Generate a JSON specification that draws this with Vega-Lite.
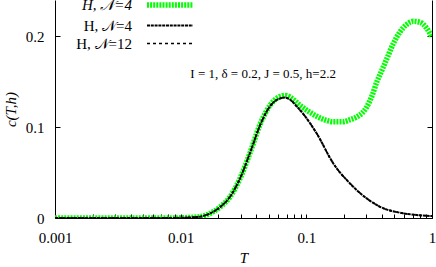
{
  "$schema": "https://vega.github.io/schema/vega-lite/v6.json",
  "width": 377,
  "height": 218,
  "autosize": {"type": "none"},
  "padding": {"left": 55, "top": 0, "right": 4, "bottom": 49},
  "background": "white",
  "config": {
    "view": {"stroke": null},
    "font": "Liberation Serif",
    "axis": {"grid": false, "domainColor": "black", "tickColor": "black", "labelColor": "black", "titleColor": "black", "labelFont": "Liberation Serif", "titleFont": "Liberation Serif", "labelFontSize": 15, "titleFontSize": 15, "titleFontWeight": "normal", "titleFontStyle": "italic"}
  },
  "datasets": {
    "curves": [
      {"series": "a", "T": 0.001, "c": 0},
      {"series": "a", "T": 0.003, "c": 0},
      {"series": "a", "T": 0.008, "c": 0},
      {"series": "a", "T": 0.01, "c": 0.0002},
      {"series": "a", "T": 0.0125, "c": 0.0008},
      {"series": "a", "T": 0.0143, "c": 0.0015},
      {"series": "a", "T": 0.0165, "c": 0.004},
      {"series": "a", "T": 0.0182, "c": 0.0069},
      {"series": "a", "T": 0.021, "c": 0.013},
      {"series": "a", "T": 0.0247, "c": 0.0234},
      {"series": "a", "T": 0.0297, "c": 0.0436},
      {"series": "a", "T": 0.0357, "c": 0.072},
      {"series": "a", "T": 0.0428, "c": 0.103},
      {"series": "a", "T": 0.0514, "c": 0.124},
      {"series": "a", "T": 0.06, "c": 0.133},
      {"series": "a", "T": 0.068, "c": 0.135},
      {"series": "a", "T": 0.078, "c": 0.131},
      {"series": "a", "T": 0.089, "c": 0.124},
      {"series": "a", "T": 0.105, "c": 0.117},
      {"series": "a", "T": 0.121, "c": 0.112},
      {"series": "a", "T": 0.14, "c": 0.108},
      {"series": "a", "T": 0.164, "c": 0.106},
      {"series": "a", "T": 0.196, "c": 0.106},
      {"series": "a", "T": 0.22, "c": 0.108},
      {"series": "a", "T": 0.25, "c": 0.111},
      {"series": "a", "T": 0.28, "c": 0.116},
      {"series": "a", "T": 0.302, "c": 0.122},
      {"series": "a", "T": 0.336, "c": 0.136},
      {"series": "a", "T": 0.364, "c": 0.15},
      {"series": "a", "T": 0.386, "c": 0.158},
      {"series": "a", "T": 0.436, "c": 0.175},
      {"series": "a", "T": 0.492, "c": 0.192},
      {"series": "a", "T": 0.556, "c": 0.2047},
      {"series": "a", "T": 0.628, "c": 0.213},
      {"series": "a", "T": 0.71, "c": 0.2165},
      {"series": "a", "T": 0.8, "c": 0.2155},
      {"series": "a", "T": 0.906, "c": 0.209},
      {"series": "a", "T": 1.0, "c": 0.199},

      {"series": "b", "T": 0.001, "c": 0},
      {"series": "b", "T": 0.003, "c": 0},
      {"series": "b", "T": 0.008, "c": 0},
      {"series": "b", "T": 0.01, "c": 0.0002},
      {"series": "b", "T": 0.0125, "c": 0.0008},
      {"series": "b", "T": 0.0143, "c": 0.0015},
      {"series": "b", "T": 0.0165, "c": 0.004},
      {"series": "b", "T": 0.0182, "c": 0.0069},
      {"series": "b", "T": 0.021, "c": 0.013},
      {"series": "b", "T": 0.0247, "c": 0.0234},
      {"series": "b", "T": 0.0297, "c": 0.0436},
      {"series": "b", "T": 0.0357, "c": 0.072},
      {"series": "b", "T": 0.0428, "c": 0.102},
      {"series": "b", "T": 0.0514, "c": 0.123},
      {"series": "b", "T": 0.06, "c": 0.131},
      {"series": "b", "T": 0.0676, "c": 0.1326},
      {"series": "b", "T": 0.0891, "c": 0.1187},
      {"series": "b", "T": 0.121, "c": 0.093},
      {"series": "b", "T": 0.164, "c": 0.06},
      {"series": "b", "T": 0.2226, "c": 0.038},
      {"series": "b", "T": 0.302, "c": 0.0216},
      {"series": "b", "T": 0.41, "c": 0.0107},
      {"series": "b", "T": 0.556, "c": 0.0058},
      {"series": "b", "T": 0.755, "c": 0.0033},
      {"series": "b", "T": 1.0, "c": 0.0022},

      {"series": "c", "T": 0.001, "c": 0},
      {"series": "c", "T": 0.003, "c": 0},
      {"series": "c", "T": 0.008, "c": 0},
      {"series": "c", "T": 0.01, "c": 0.0002},
      {"series": "c", "T": 0.0125, "c": 0.0008},
      {"series": "c", "T": 0.0143, "c": 0.0015},
      {"series": "c", "T": 0.0165, "c": 0.004},
      {"series": "c", "T": 0.0182, "c": 0.0069},
      {"series": "c", "T": 0.021, "c": 0.013},
      {"series": "c", "T": 0.0247, "c": 0.0234},
      {"series": "c", "T": 0.0297, "c": 0.0436},
      {"series": "c", "T": 0.0357, "c": 0.072},
      {"series": "c", "T": 0.0428, "c": 0.102},
      {"series": "c", "T": 0.0514, "c": 0.123},
      {"series": "c", "T": 0.06, "c": 0.131},
      {"series": "c", "T": 0.0676, "c": 0.1326},
      {"series": "c", "T": 0.0891, "c": 0.1187},
      {"series": "c", "T": 0.121, "c": 0.093},
      {"series": "c", "T": 0.164, "c": 0.06},
      {"series": "c", "T": 0.2226, "c": 0.038},
      {"series": "c", "T": 0.302, "c": 0.0216},
      {"series": "c", "T": 0.41, "c": 0.0107},
      {"series": "c", "T": 0.556, "c": 0.0058},
      {"series": "c", "T": 0.755, "c": 0.0033},
      {"series": "c", "T": 1.0, "c": 0.0022}
    ]
  },
  "data": {"name": "curves"},
  "resolve": {"axis": {"y": "independent"}},
  "layer": [
    {
      "mark": {"type": "line", "interpolate": "monotone", "clip": true},
      "encoding": {
        "x": {"field": "T", "type": "quantitative", "title": "T",
          "scale": {"type": "log", "domain": [0.001, 1], "nice": false},
          "axis": {"values": [0.001,0.002,0.003,0.004,0.005,0.006,0.007,0.008,0.009,0.01,0.02,0.03,0.04,0.05,0.06,0.07,0.08,0.09,0.1,0.2,0.3,0.4,0.5,0.6,0.7,0.8,0.9,1],
            "labelExpr": "abs(log(datum.value)/LN10 - round(log(datum.value)/LN10)) < 1e-6 ? format(datum.value, '~g') : ''",
            "tickSize": -4, "labelPadding": 16, "titlePadding": 5, "labelFlush": false, "labelOverlap": false}},
        "y": {"field": "c", "type": "quantitative", "title": "c(T,h)",
          "scale": {"domain": [0, 0.24], "nice": false, "zero": true},
          "axis": {"values": [0, 0.1, 0.2], "format": "~g", "tickSize": -5, "labelPadding": 16, "titlePadding": 7}},
        "color": {"field": "series", "type": "nominal",
          "scale": {"domain": ["a", "b", "c"], "range": ["#00ff00", "#000000", "#000000"]},
          "legend": {"orient": "none", "legendX": 107, "legendY": -3, "title": null,
            "labelExpr": "datum.value == 'a' ? 'H, 𝒩=4' : (datum.value == 'b' ? 'H, 𝒩=4' : 'H, 𝒩=12')",
            "labelAlign": "right", "labelOffset": -46, "labelFont": "Liberation Serif", "labelFontSize": 15, "labelColor": "black",
            "symbolType": "M-4.6,0H4.6", "symbolSize": 100, "rowPadding": 2,
            "labelLimit": 200,
            "encode": {"labels": {"update": {"fontStyle": {"signal": "datum.value == 'a' ? 'italic' : 'normal'"}}}}}},
        "strokeDash": {"field": "series", "type": "nominal",
          "scale": {"domain": ["a", "b", "c"], "range": [[2, 1.1], [3, 0.8], [3, 3]]}},
        "strokeWidth": {"field": "series", "type": "nominal",
          "scale": {"type": "ordinal", "domain": ["a", "b", "c"], "range": [5.5, 2, 1.5]}}
      }
    },
    {
      "mark": {"type": "text", "font": "Liberation Serif", "fontSize": 13, "color": "black"},
      "data": {"values": [{"label": "I = 1, δ = 0.2, J = 0.5, h=2.2"}]},
      "encoding": {
        "x": {"datum": 0.0453, "type": "quantitative"},
        "y": {"datum": 0.158, "type": "quantitative",
          "axis": {"orient": "right", "values": [0, 0.1, 0.2], "labels": false, "title": null, "tickSize": -5}},
        "text": {"field": "label"}
      }
    }
  ]
}
